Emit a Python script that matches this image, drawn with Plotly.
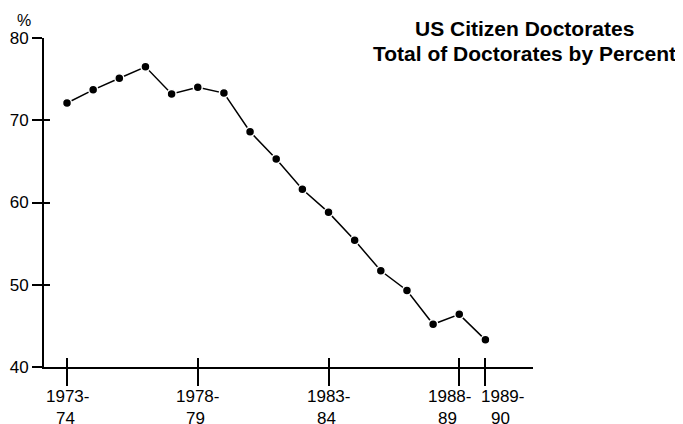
import plotly.graph_objects as go

# Data
start_years = [1973, 1974, 1975, 1976, 1977, 1978, 1979, 1980, 1981, 1982,
               1983, 1984, 1985, 1986, 1987, 1988, 1989]
percent_us = [72.1, 73.7, 75.1, 76.5, 73.2, 74.0, 73.3, 68.6, 65.3, 61.6,
              58.8, 55.4, 51.7, 49.3, 45.2, 46.4, 43.3]
tick_years = [1973, 1978, 1983, 1988, 1989]
tick_top = ["1973-", "1978-", "1983-", "1988-", "1989-"]
tick_bottom = ["74", "79", "84", "89", "90"]
y_ticks = [40, 50, 60, 70, 80]

# styling
label_xshift = [0, 0, 0, -10, 17]
FONT = "Liberation Sans, Arial, Helvetica, sans-serif"
xr = [1972.12, 1990.82]
yr = [40, 80]

fig = go.Figure()
fig.add_trace(go.Scatter(
    x=start_years, y=percent_us, mode="lines+markers",
    line=dict(color="black", width=1.5),
    marker=dict(color="black", size=9, line=dict(color="white", width=1.5)),
    showlegend=False, hoverinfo="x+y",
))
# invisible trace carrying the overlay axes (inner halves of crossing ticks)
fig.add_trace(go.Scatter(
    x=start_years, y=percent_us, xaxis="x2", yaxis="y2", mode="lines",
    line=dict(color="rgba(0,0,0,0)", width=0), showlegend=False, hoverinfo="skip",
))

annotations = []
for yr_, top, bot, sh in zip(tick_years, tick_top, tick_bottom, label_xshift):
    annotations.append(dict(text=top, x=yr_, xref="x", y=0, yref="paper",
                            xanchor="center", yanchor="middle", yshift=-29, xshift=sh,
                            showarrow=False, font=dict(size=17, family=FONT)))
    annotations.append(dict(text=bot, x=yr_, xref="x", y=0, yref="paper",
                            xanchor="center", yanchor="middle", yshift=-51, xshift=sh - 2,
                            showarrow=False, font=dict(size=17, family=FONT)))

annotations += [
    dict(text="<b>US Citizen Doctorates</b>", xref="paper", yref="paper",
         x=0.9836, y=1, yshift=10, xanchor="center", yanchor="middle",
         showarrow=False, font=dict(size=21, family=FONT)),
    dict(text="<b>Total of Doctorates by Percent</b>", xref="paper", yref="paper",
         x=0.9836, y=1, yshift=-15, xanchor="center", yanchor="middle",
         showarrow=False, font=dict(size=21, family=FONT)),
    dict(text="%", xref="paper", yref="paper", x=-0.041, y=1, yshift=18,
         xanchor="center", yanchor="middle", showarrow=False, font=dict(size=16, family=FONT)),
]

fig.update_layout(
    width=683, height=416,
    margin=dict(l=36, r=158, t=30, b=57),
    paper_bgcolor="white", plot_bgcolor="white",
    font=dict(family=FONT, color="black", size=17),
    xaxis=dict(range=xr, tickmode="array", tickvals=tick_years, showticklabels=False,
               ticks="outside", ticklen=17, tickwidth=2, tickcolor="black",
               showline=True, linecolor="black", linewidth=2, automargin=False,
               showgrid=False, zeroline=False),
    yaxis=dict(range=yr, tickmode="array", tickvals=y_ticks,
               ticks="outside", ticklen=10, tickwidth=2, tickcolor="black",
               showline=True, linecolor="black", linewidth=2, automargin=False,
               showgrid=False, zeroline=False, tickfont=dict(size=17)),
    xaxis2=dict(range=xr, overlaying="x", anchor="y2", tickmode="array", tickvals=tick_years,
                ticks="inside", ticklen=9, tickwidth=2, tickcolor="black", automargin=False,
                showticklabels=False, showline=False, showgrid=False, zeroline=False),
    yaxis2=dict(range=yr, overlaying="y", anchor="x2", tickmode="array", tickvals=y_ticks,
                ticks="inside", ticklen=6, tickwidth=2, tickcolor="black", automargin=False,
                showticklabels=False, showline=False, showgrid=False, zeroline=False),
    annotations=annotations,
)

fig.write_html("out.html")
